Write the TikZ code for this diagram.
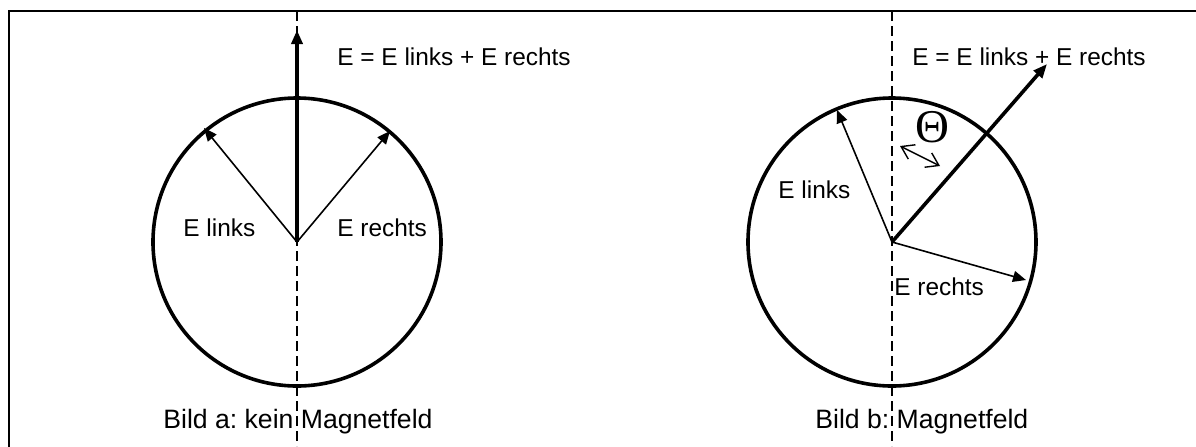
\documentclass[tikz,border=0pt]{standalone}
\usepackage{fontspec}
\setmainfont{Liberation Sans}
\newfontfamily\thetafont{Liberation Serif}
\usetikzlibrary{arrows.meta}
\frenchspacing
\begin{document}
\begin{tikzpicture}[x=0.5pt,y=-0.5pt,
 lbl/.style={font=\fontsize{12.2}{14}\selectfont, inner sep=0pt, anchor=west},
 caption/.style={font=\fontsize{13.3}{15}\selectfont, inner sep=0pt, anchor=west},
 ring/.style={line width=1.8pt},
 thinvec/.style={line width=0.8pt,-{Triangle[length=6.5pt,width=5.5pt]}},
 bigvec/.style={line width=1.8pt,-{Triangle[length=7pt,width=5.5pt]}},
 axisline/.style={line width=0.7pt,dash pattern=on 5pt off 2.5pt},
 anglemark/.style={line width=0.7pt,{Straight Barb[length=6pt,width=8pt]}-{Straight Barb[length=6pt,width=8pt]}}]
\useasboundingbox (0,0) rectangle (1196,446);
\clip (0,0) rectangle (1196,446);
\draw[line width=1.1pt] (9,11) rectangle (1215,470);
% ---------- Bild a
\coordinate (Oa) at (297,242);
\coordinate (Ta) at (297,11);
\coordinate (Ba) at (297,446);
\coordinate (La) at (204,128);
\coordinate (Ra) at (390,131);
\coordinate (Sa) at (297,30);
\draw[axisline] (Ta) -- (Ba);
\draw[ring] (Oa) circle[radius=72pt];
\draw[thinvec] (Oa) -- (La);
\draw[thinvec] (Oa) -- (Ra);
\draw[bigvec] (Oa) -- (Sa);
\node[lbl] (sumA) at (337,57) {E = E links + E rechts};
\node[lbl] (linksA) at (183,228) {E links};
\node[lbl] (rechtsA) at (337,228) {E rechts};
\node[caption] (capA) at (163,422) {Bild a: kein Magnetfeld};
% ---------- Bild b
\coordinate (Ob) at (892,242);
\coordinate (Tb) at (892,11);
\coordinate (Bb) at (892,446);
\coordinate (Lb) at (837,110);
\coordinate (Rb) at (1026,280);
\coordinate (Sb) at (1047,64);
\coordinate (Th1) at (900,146);
\coordinate (Th2) at (940,166);
\draw[axisline] (Tb) -- (Bb);
\draw[ring] (Ob) circle[radius=72pt];
\draw[thinvec] (Ob) -- (Lb);
\draw[thinvec] (Ob) -- (Rb);
\draw[bigvec] (Ob) -- (Sb);
\draw[anglemark] (Th1) -- (Th2);
\node[inner sep=0pt,font=\thetafont\fontsize{23.5}{24}\selectfont] (theta) at (932,127) {Θ};
\node[lbl] (sumB) at (912,57) {E = E links + E rechts};
\node[lbl] (linksB) at (778,190) {E links};
\node[lbl] (rechtsB) at (894,287) {E rechts};
\node[caption] (capB) at (815,422) {Bild b: Magnetfeld};
\end{tikzpicture}
\end{document}
